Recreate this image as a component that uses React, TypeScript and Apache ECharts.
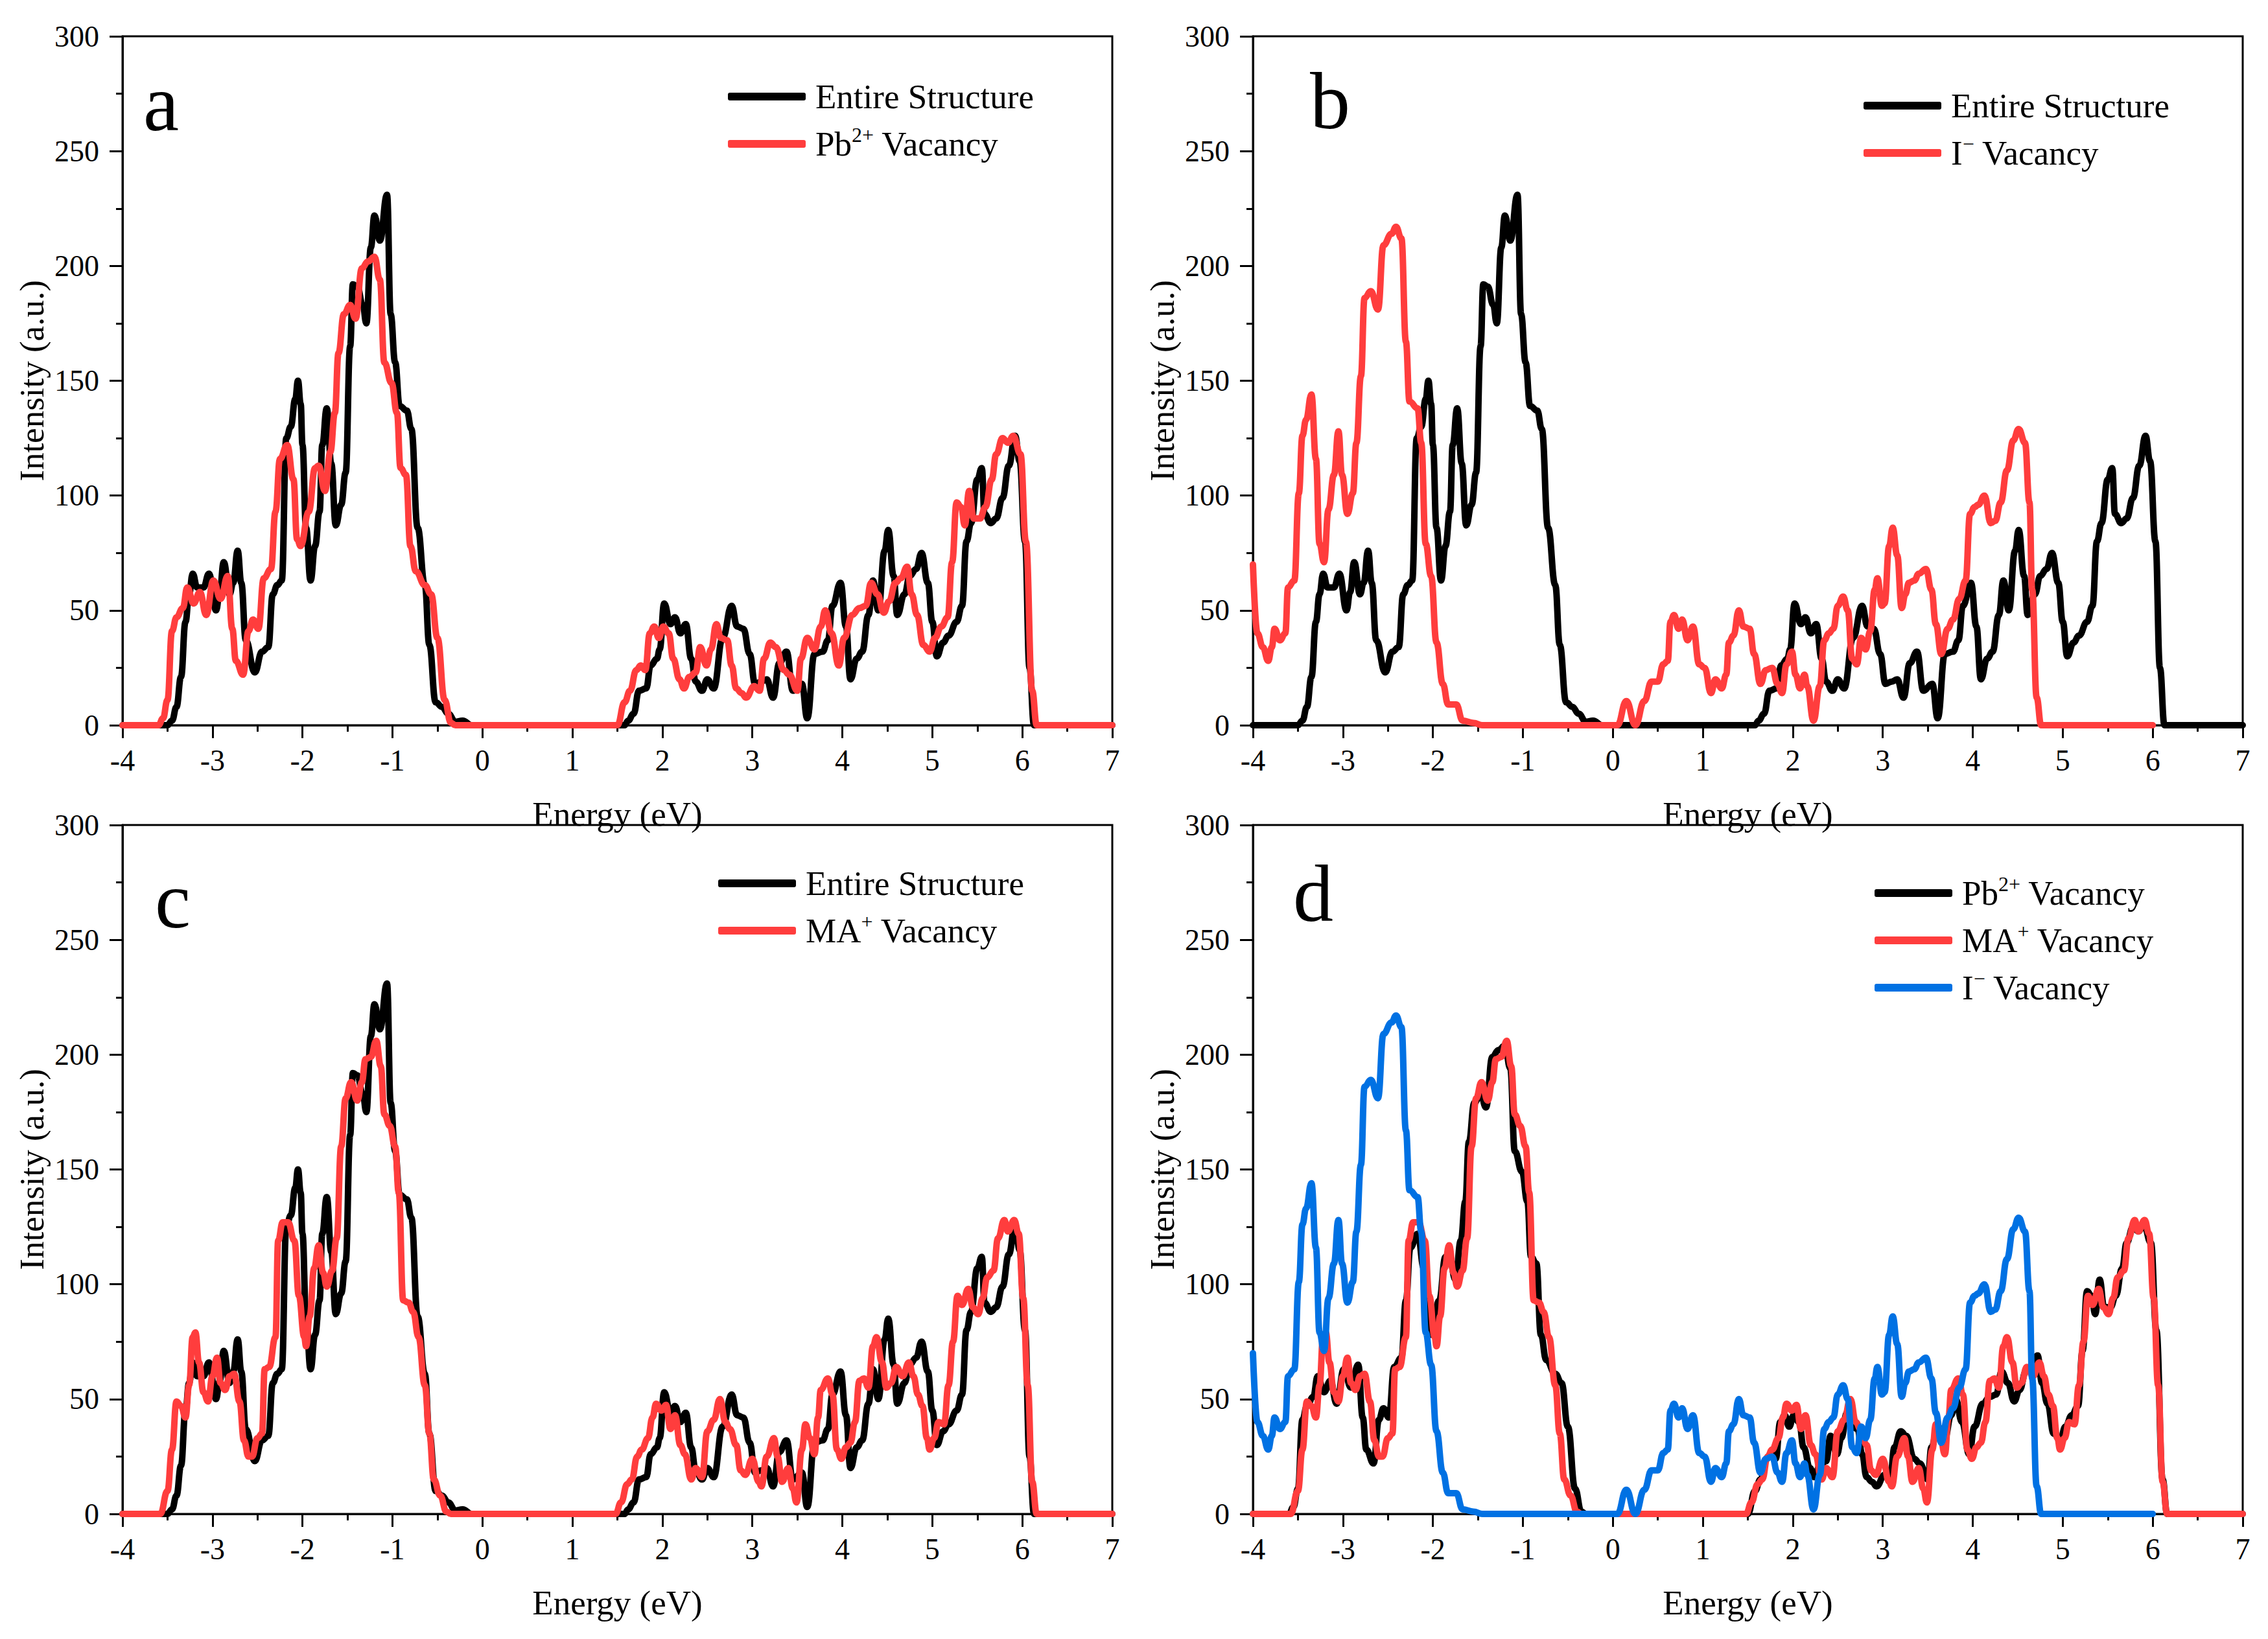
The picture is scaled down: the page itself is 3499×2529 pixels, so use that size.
import React, { useEffect, useRef } from "react";
import * as echarts from "echarts";

// ---------- data (energy in eV, intensity in a.u.) ----------
const entireE = [-4, -3.5, -3.45, -3.4, -3.35, -3.3, -3.26, -3.22, -3.17, -3.1, -3.04, -2.96, -2.92, -2.875, -2.81, -2.77, -2.72, -2.68, -2.63, -2.53, -2.45, -2.38, -2.33, -2.28, -2.23, -2.18, -2.13, -2.08, -2.05, -2.02, -2.0, -1.96, -1.91, -1.86, -1.81, -1.78, -1.73, -1.68, -1.63, -1.57, -1.52, -1.47, -1.44, -1.39, -1.33, -1.29, -1.24, -1.2, -1.14, -1.06, -1.02, -0.97, -0.92, -0.84, -0.79, -0.72, -0.64, -0.59, -0.52, -0.45, -0.38, -0.3, -0.22, -0.12, 1.58, 1.62, 1.68, 1.74, 1.82, 1.87, 1.94, 1.97, 2.02, 2.09, 2.14, 2.2, 2.26, 2.32, 2.37, 2.44, 2.5, 2.57, 2.67, 2.77, 2.83, 2.9, 2.97, 3.03, 3.1, 3.16, 3.23, 3.3, 3.38, 3.45, 3.55, 3.61, 3.69, 3.78, 3.84, 3.89, 3.98, 4.04, 4.09, 4.16, 4.22, 4.29, 4.34, 4.4, 4.47, 4.51, 4.57, 4.61, 4.69, 4.75, 4.82, 4.88, 4.95, 5.0, 5.05, 5.12, 5.18, 5.27, 5.33, 5.38, 5.43, 5.5, 5.55, 5.58, 5.65, 5.71, 5.78, 5.85, 5.92, 5.97, 6.03, 6.08, 6.13, 7];
const entireI = [0, 0, 2, 8, 21, 45, 57, 66, 60, 60, 66, 50, 58, 71, 57, 62, 76, 62, 37, 23, 32, 34, 57, 61, 63, 125, 130, 142, 150, 140, 122, 86, 63, 78, 93, 122, 138, 114, 87, 96, 110, 165, 192, 191, 183, 175, 208, 222, 211, 231, 179, 158, 139, 137, 129, 86, 61, 35, 10, 8, 5, 1.5, 2, 0, 0, 2, 5, 15, 16, 26, 29, 33, 53, 44, 47, 40, 44, 29, 19, 15, 20, 16, 38, 52, 43, 42, 31, 18, 19, 20, 12, 27, 32, 15, 18, 3, 31, 32, 37, 52, 62, 43, 20, 29, 32, 48, 63, 50, 76, 85, 65, 48, 57, 65, 68, 75, 62, 45, 30, 36, 39, 45, 52, 80, 88, 107, 112, 92, 88, 90, 99, 113, 126, 115, 80, 25, 0, 0];

const pbVacE = [-4, -3.6, -3.55, -3.5, -3.45, -3.4, -3.33, -3.28, -3.21, -3.14, -3.07, -2.99, -2.91, -2.83, -2.78, -2.74, -2.66, -2.6, -2.55, -2.49, -2.43, -2.35, -2.3, -2.25, -2.17, -2.1, -2.06, -2.02, -1.93, -1.86, -1.82, -1.75, -1.69, -1.64, -1.6, -1.54, -1.47, -1.41, -1.34, -1.27, -1.2, -1.14, -1.09, -1.01, -0.95, -0.91, -0.85, -0.8, -0.74, -0.64, -0.57, -0.5, -0.42, -0.35, -0.3, 1.5, 1.58, 1.64, 1.71, 1.76, 1.81, 1.86, 1.91, 1.96, 2.01, 2.07, 2.12, 2.19, 2.24, 2.3, 2.37, 2.42, 2.49, 2.54, 2.6, 2.65, 2.72, 2.77, 2.82, 2.88, 2.93, 3.02, 3.08, 3.13, 3.2, 3.26, 3.35, 3.41, 3.5, 3.54, 3.61, 3.69, 3.76, 3.81, 3.88, 3.96, 4.02, 4.11, 4.19, 4.26, 4.32, 4.39, 4.46, 4.52, 4.59, 4.65, 4.72, 4.77, 4.83, 4.9, 4.97, 5.03, 5.1, 5.17, 5.22, 5.27, 5.32, 5.36, 5.41, 5.46, 5.53, 5.59, 5.66, 5.71, 5.78, 5.84, 5.9, 5.98, 6.04, 6.11, 6.16, 7];
const pbVacI = [0, 0, 3, 11, 41, 47, 51, 60, 53, 58, 48, 63, 55, 65, 42, 28, 22, 41, 46, 42, 64, 68, 93, 116, 122, 107, 81, 78, 93, 112, 113, 102, 119, 136, 162, 179, 183, 177, 199, 202, 204, 194, 158, 149, 136, 112, 109, 78, 67, 61, 57, 38, 11, 1, 0, 0, 10, 15, 24, 26, 24, 40, 43, 38, 43, 40, 29, 20, 16, 21, 23, 34, 26, 33, 44, 38, 37, 26, 16, 14, 12, 17, 15, 29, 36, 34, 24, 22, 15, 29, 38, 33, 43, 50, 40, 26, 38, 48, 51, 52, 62, 57, 49, 54, 62, 64, 69, 57, 48, 35, 32, 38, 43, 47, 71, 97, 95, 87, 102, 90, 90, 95, 107, 118, 125, 123, 126, 118, 80, 15, 0, 0];

const iVacE = [-4, -3.95, -3.89, -3.83, -3.79, -3.76, -3.7, -3.64, -3.61, -3.54, -3.49, -3.45, -3.41, -3.35, -3.3, -3.26, -3.21, -3.16, -3.1, -3.05, -3.01, -2.95, -2.89, -2.85, -2.8, -2.76, -2.69, -2.61, -2.55, -2.46, -2.41, -2.35, -2.3, -2.26, -2.17, -2.13, -2.08, -2.02, -1.96, -1.89, -1.83, -1.74, -1.67, -1.55, -1.45, 0.05, 0.15, 0.25, 0.35, 0.43, 0.5, 0.56, 0.61, 0.64, 0.68, 0.73, 0.77, 0.83, 0.89, 0.96, 1.02, 1.09, 1.14, 1.21, 1.26, 1.29, 1.34, 1.4, 1.45, 1.52, 1.57, 1.64, 1.7, 1.77, 1.83, 1.88, 1.93, 1.99, 2.03, 2.08, 2.13, 2.16, 2.23, 2.3, 2.35, 2.4, 2.45, 2.5, 2.56, 2.61, 2.66, 2.71, 2.76, 2.81, 2.86, 2.91, 2.94, 2.99, 3.02, 3.07, 3.11, 3.16, 3.21, 3.25, 3.29, 3.35, 3.4, 3.48, 3.54, 3.59, 3.65, 3.72, 3.78, 3.85, 3.92, 3.97, 4.02, 4.06, 4.13, 4.2, 4.25, 4.31, 4.38, 4.45, 4.51, 4.58, 4.63, 4.66, 4.71, 4.76, 6.0];
const iVacI = [70, 40, 34, 28, 34, 42, 37, 40, 60, 63, 101, 126, 133, 144, 116, 79, 71, 94, 109, 128, 109, 92, 101, 123, 152, 186, 189, 181, 209, 214, 217, 212, 167, 141, 138, 123, 79, 65, 36, 18, 9, 9, 2, 1, 0, 0, 10.5, 0, 10.5, 19, 19, 26.5, 28, 45, 48, 42, 46, 37, 43, 26.5, 25, 14, 20, 16, 22, 36, 39, 50, 43, 42, 31, 18, 24, 25, 18, 14, 26.5, 32, 22, 16, 22, 17, 2, 17, 37, 40, 42, 52, 56, 50, 29, 26.5, 38, 33, 41, 59, 64, 52, 53, 78, 86, 74, 51, 57, 62, 63, 66, 68, 59, 44, 31, 42, 46, 55, 63, 92, 95, 96, 100, 88, 89, 97, 111, 124, 129, 123, 97, 59, 12, 0, 0];

const maVacE = [-4, -3.58, -3.5, -3.45, -3.4, -3.35, -3.3, -3.26, -3.22, -3.19, -3.15, -3.1, -3.05, -3.0, -2.95, -2.91, -2.86, -2.81, -2.76, -2.7, -2.65, -2.6, -2.56, -2.5, -2.45, -2.42, -2.37, -2.3, -2.27, -2.22, -2.16, -2.09, -2.04, -1.98, -1.96, -1.92, -1.87, -1.82, -1.77, -1.73, -1.67, -1.62, -1.57, -1.52, -1.46, -1.39, -1.34, -1.3, -1.24, -1.18, -1.13, -1.09, -1.03, -0.97, -0.93, -0.88, -0.82, -0.77, -0.71, -0.64, -0.59, -0.54, -0.47, -0.4, -0.35, 1.48, 1.54, 1.61, 1.66, 1.72, 1.77, 1.84, 1.89, 1.93, 1.99, 2.04, 2.09, 2.14, 2.2, 2.25, 2.32, 2.37, 2.44, 2.5, 2.57, 2.64, 2.7, 2.75, 2.82, 2.87, 2.92, 3.0, 3.07, 3.1, 3.16, 3.24, 3.28, 3.33, 3.4, 3.45, 3.49, 3.55, 3.59, 3.64, 3.69, 3.73, 3.76, 3.84, 3.89, 3.94, 3.99, 4.04, 4.09, 4.14, 4.19, 4.24, 4.29, 4.34, 4.38, 4.44, 4.49, 4.54, 4.6, 4.67, 4.74, 4.79, 4.84, 4.89, 4.94, 4.97, 5.02, 5.07, 5.13, 5.18, 5.23, 5.28, 5.33, 5.4, 5.45, 5.51, 5.56, 5.61, 5.68, 5.73, 5.8, 5.84, 5.91, 5.96, 6.01, 6.06, 6.11, 6.16, 7];
const maVacI = [0, 0, 10, 28, 49, 47, 42, 56, 77, 79, 66, 53, 49, 60, 68, 57, 54, 60, 61, 49, 32, 25, 25, 33, 35, 63, 64, 77, 119, 127, 127, 119, 95, 77, 73, 86, 107, 117, 105, 99, 106, 120, 160, 181, 188, 180, 188, 198, 199, 206, 195, 174, 169, 160, 140, 93, 92, 88, 77, 56, 35, 15, 8, 1, 0, 0, 5, 13, 15, 25, 28, 33, 42, 48, 45, 47.5, 37, 43, 30, 26, 15, 20, 16, 36, 41, 50, 40, 37, 30, 19, 17, 24, 14, 12, 25, 33, 25, 14, 20, 11, 5, 28, 39, 33, 26, 42, 54, 59, 52, 28, 24, 29, 31, 40, 58, 59, 55, 73, 77, 66, 55, 57, 64, 60, 66, 60, 52, 47, 33, 28, 33, 40, 39, 56, 75, 95, 91, 98, 90, 87, 94, 103, 106, 120, 128, 123, 128, 122, 94, 56, 14, 0, 0];

// axis settings
const xMin = -4;
const xMax = 7;
const xStep = 1;
const yMin = 0;
const yMax = 300;
const yStep = 50;

const panelLetters = ["a", "b", "c", "d"];
const xTitle = "Energy (eV)";
const yTitle = "Intensity (a.u.)";

// ---------- styling ----------
const FONT = "'Liberation Serif', 'Times New Roman', Times, serif";
const BLACK = "#000000";
const RED = "#FF3D3D";
const BLUE = "#0071E3";

const LABELS: Record<string, string> = {
  entire: "{m|Entire Structure}",
  pb: "{m|Pb}{s|2+}{n| Vacancy}",
  ma: "{m|MA}{s|+}{n| Vacancy}",
  iv: "{m|I}{s|\u2212}{n| Vacancy}",
};

const zip = (e: number[], v: number[]) => e.map((x, i) => [x, v[i]]);

type Curve = { key: string; E: number[]; I: number[]; color: string };

const W = 1527;
const H = 1063;

const panels: {
  left: number;
  top: number;
  curves: Curve[];
  legendLeft: number;
  legendTop: number;
  letterX: number;
  letterY: number;
}[] = [
  {
    left: 189, top: 56,
    curves: [
      { key: "entire", E: entireE, I: entireI, color: BLACK },
      { key: "pb", E: pbVacE, I: pbVacI, color: RED },
    ],
    legendLeft: 1123, legendTop: 119, letterX: 221, letterY: 159,
  },
  {
    left: 1933, top: 56,
    curves: [
      { key: "entire", E: entireE, I: entireI, color: BLACK },
      { key: "iv", E: iVacE, I: iVacI, color: RED },
    ],
    legendLeft: 2875, legendTop: 133, letterX: 2021, letterY: 156,
  },
  {
    left: 189, top: 1273,
    curves: [
      { key: "entire", E: entireE, I: entireI, color: BLACK },
      { key: "ma", E: maVacE, I: maVacI, color: RED },
    ],
    legendLeft: 1108, legendTop: 1333, letterX: 239, letterY: 1389,
  },
  {
    left: 1933, top: 1273,
    curves: [
      { key: "pb", E: pbVacE, I: pbVacI, color: BLACK },
      { key: "ma", E: maVacE, I: maVacI, color: RED },
      { key: "iv", E: iVacE, I: iVacI, color: BLUE },
    ],
    legendLeft: 2892, legendTop: 1348, letterX: 1995, letterY: 1379,
  },
];

function buildOption() {
  const grid: any[] = [];
  const xAxis: any[] = [];
  const yAxis: any[] = [];
  const series: any[] = [];
  const legend: any[] = [];
  const graphic: any[] = [];

  const axisText = { color: BLACK, fontFamily: FONT, fontSize: 46 };
  const richBase = { color: BLACK, fontFamily: FONT, fontSize: 53, lineHeight: 60 };

  panels.forEach((p, gi) => {
    grid.push({
      left: p.left, top: p.top, width: W, height: H,
      show: true, borderColor: BLACK, borderWidth: 3, backgroundColor: "transparent",
    });
    xAxis.push({
      type: "value", gridIndex: gi, min: xMin, max: xMax, interval: xStep,
      name: xTitle, nameLocation: "middle", nameGap: 110,
      nameTextStyle: { color: BLACK, fontFamily: FONT, fontSize: 53 },
      axisLine: { show: true, onZero: false, lineStyle: { color: BLACK, width: 3 } },
      axisTick: { show: true, inside: false, length: 20, lineStyle: { color: BLACK, width: 3 } },
      minorTick: { show: true, splitNumber: 2, length: 10, lineStyle: { color: BLACK, width: 3 } },
      axisLabel: { ...axisText, margin: 31 },
      splitLine: { show: false },
    });
    yAxis.push({
      type: "value", gridIndex: gi, min: yMin, max: yMax, interval: yStep,
      name: yTitle, nameLocation: "middle", nameGap: 114,
      nameTextStyle: { color: BLACK, fontFamily: FONT, fontSize: 53 },
      axisLine: { show: true, onZero: false, lineStyle: { color: BLACK, width: 3 } },
      axisTick: { show: true, inside: false, length: 20, lineStyle: { color: BLACK, width: 3 } },
      minorTick: { show: true, splitNumber: 2, length: 10, lineStyle: { color: BLACK, width: 3 } },
      axisLabel: { ...axisText, margin: 36 },
      splitLine: { show: false },
    });

    const names: string[] = [];
    p.curves.forEach((c) => {
      const name = `${panelLetters[gi]}_${c.key}`;
      names.push(name);
      series.push({
        name,
        type: "line",
        xAxisIndex: gi,
        yAxisIndex: gi,
        data: zip(c.E, c.I),
        showSymbol: false,
        symbol: "none",
        smooth: 0.45,
        smoothMonotone: "x",
        lineStyle: { color: c.color, width: 10, cap: "round", join: "round" },
        itemStyle: { color: c.color },
        emphasis: { disabled: true },
      });
    });

    legend.push({
      orient: "vertical",
      left: p.legendLeft,
      top: p.legendTop,
      padding: 0,
      itemWidth: 120,
      itemHeight: 12,
      itemGap: 13,
      icon: "roundRect",
      selectedMode: false,
      data: names,
      formatter: (n: string) => LABELS[n.split("_")[1]],
      textStyle: {
        ...richBase,
        rich: {
          m: { ...richBase, padding: [0, 0, 0, 10] },
          n: { ...richBase },
          s: { color: BLACK, fontFamily: FONT, fontSize: 32, lineHeight: 32, padding: [0, 0, 28, 0] },
        },
      },
    });

    graphic.push({
      type: "text",
      left: p.letterX,
      top: p.letterY - 62,
      style: {
        text: panelLetters[gi],
        fill: BLACK,
        font: `124px ${FONT}`,
      },
    });
  });

  return {
    animation: false,
    backgroundColor: "#ffffff",
    textStyle: { fontFamily: FONT, color: BLACK },
    grid,
    xAxis,
    yAxis,
    legend,
    series,
    graphic,
  };
}

export default function App() {
  const ref = useRef<HTMLDivElement>(null);
  useEffect(() => {
    if (!ref.current) return;
    const chart = echarts.init(ref.current, undefined, { renderer: "svg" });
    chart.setOption(buildOption() as any);
    return () => chart.dispose();
  }, []);
  return (
    <div
      ref={ref}
      style={{ position: "absolute", left: 0, top: 0, width: 3499, height: 2529, background: "#fff" }}
    />
  );
}
